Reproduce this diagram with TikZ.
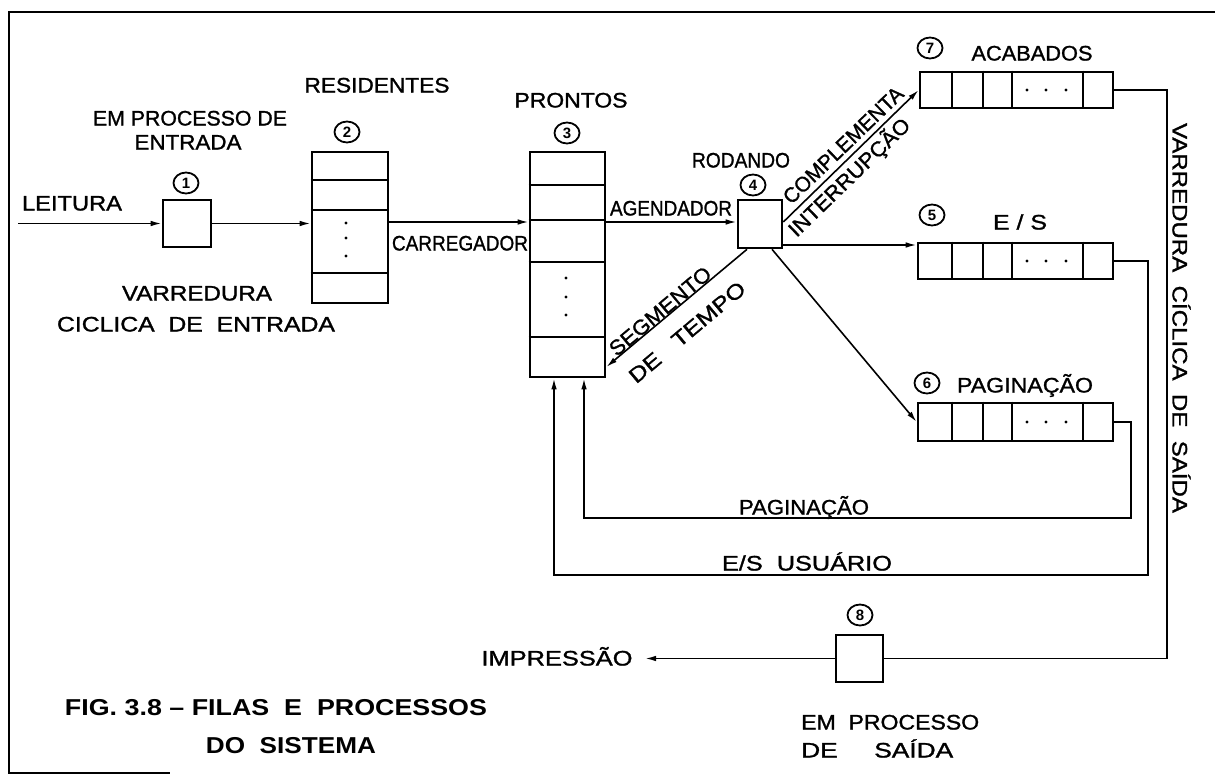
\documentclass[tikz,border=0pt]{standalone}
\usepackage{fontspec}
\setmainfont{Liberation Sans}
\newfontfamily\medfont[FakeBold=1.2]{Liberation Sans}
\usetikzlibrary{arrows.meta,shapes.geometric}
\newcommand\tw[2]{\resizebox{#1pt}{\height}{#2}}
\begin{document}
\begin{tikzpicture}[x=1pt,y=-1pt,
  conn/.style={line width=1.6pt,-{Latex[length=11pt,width=5.5pt]}},
  plain/.style={line width=1.6pt},
  box/.style={draw,line width=2.6pt,inner sep=0pt},
  div/.style={line width=2.2pt},
  lbl/.style={inner sep=0pt,text height=15pt,text depth=0pt,font=\medfont\fontsize{21}{21}\selectfont},
  captxt/.style={inner sep=0pt,text height=17pt,text depth=0pt,font=\bfseries\fontsize{23}{23}\selectfont},
  num/.style={ellipse,draw,line width=1.8pt,minimum width=25pt,minimum height=21pt,inner sep=0pt,font=\bfseries\fontsize{15}{15}\selectfont}]
\useasboundingbox (0,0) rectangle (1215,776);
\fill[white] (0,0) rectangle (1215,776);
% frame
\draw[line width=2.2pt] (1215,12) -- (9,12) -- (9,773) -- (170,773);

% boxes
\node[box,minimum width=48pt,minimum height=47pt] (b1) at (187,223.5) {};
\node[box,minimum width=76pt,minimum height=151pt] (b2) at (350,227.5) {};
\node[box,minimum width=75pt,minimum height=225pt] (b3) at (567.5,264.5) {};
\node[box,minimum width=44pt,minimum height=48pt] (b4) at (760,224) {};
\node[box,minimum width=193pt,minimum height=36pt] (b7) at (1016.5,90) {};
\node[box,minimum width=195pt,minimum height=36pt] (b5) at (1015.5,261) {};
\node[box,minimum width=195pt,minimum height=38pt] (b6) at (1015.5,422) {};
\node[box,minimum width=47pt,minimum height=47pt] (b8) at (859.5,658.5) {};

% dividers of the vertical queues
\foreach \y in {180,210,273} \draw[div] (b2.west |- 0,\y) -- (b2.east |- 0,\y);
\foreach \y in {185,220,262,337} \draw[div] (b3.west |- 0,\y) -- (b3.east |- 0,\y);
\foreach \y in {223,238,256} \fill (346,\y) circle (1.7pt);
\foreach \y in {278,297,315} \fill (566,\y) circle (1.7pt);
% dividers of the horizontal queues
\foreach \q in {b7,b5,b6}{
  \foreach \x in {952,983,1012,1083} \draw[div] (\x,0 |- \q.north) -- (\x,0 |- \q.south);
  \foreach \x in {1027,1046,1066} \fill (\x,0 |- \q.center) circle (1.7pt);
}

% numbers
\node[num] (n1) at (186,183) {1};
\node[num] (n2) at (347,132) {2};
\node[num] (n3) at (567,133) {3};
\node[num] (n4) at (753,185) {4};
\node[num] (n7) at (930,48) {7};
\node[num] (n5) at (932,215) {5};
\node[num] (n6) at (927,383) {6};
\node[num] (n8) at (860,615) {8};

% connectors
\coordinate (lstart) at (18,223.5);
\draw[conn] (lstart) -- (b1.west);
\draw[conn] (b1.east) -- (b2.west |- b1.east);
\draw[conn] (b2.east |- 0,222) -- (b3.west |- 0,222);
\draw[conn] (b3.east |- 0,222) -- (b4.west |- 0,222);
\draw[conn] (b4.east |- 0,222) -- (b7.west);
\draw[conn] (b4.east |- 0,245) -- (b5.west |- 0,245);
\draw[conn] (772,0 |- b4.south) -- (b6.west);
\draw[conn] (747,0 |- b4.south) -- (b3.east |- 0,367);
\draw[plain] (b7.east) -- (1167,0 |- b7.east) -- (1167,0 |- b8.east) -- (b8.east);
\coordinate (imp) at (645,658.5);
\draw[conn] (b8.west) -- (imp);
\draw[conn] (b5.east) -- (1148,0 |- b5.east) -- (1148,575) -- (554,575) -- (554,0 |- b3.south);
\draw[conn] (b6.east) -- (1131,0 |- b6.east) -- (1131,518) -- (584,518) -- (584,0 |- b3.south);

% labels
\node[lbl] (tleit) at (72,203) {\tw{100}{LEITURA}};
\node[lbl] (tepe1) at (190,118) {\tw{194}{EM PROCESSO DE}};
\node[lbl] (tepe2) at (188,142) {\tw{107}{ENTRADA}};
\node[lbl] (tres) at (377,85) {\tw{145}{RESIDENTES}};
\node[lbl] (tvar) at (197,293) {\tw{150}{VARREDURA}};
\node[lbl] (tcic) at (196,324) {\tw{278}{CICLICA\ \ DE\ \ ENTRADA}};
\node[lbl] (tcar) at (460,243) {\tw{136}{CARREGADOR}};
\node[lbl] (tpro) at (571,100) {\tw{113}{PRONTOS}};
\node[lbl] (tage) at (671,208) {\tw{122}{AGENDADOR}};
\node[lbl] (trod) at (741,160) {\tw{98}{RODANDO}};
\node[lbl] (taca) at (1032,53) {\tw{121}{ACABADOS}};
\node[lbl] (tes) at (1020,222) {\tw{54}{E / S}};
\node[lbl] (tpag) at (1025,385) {\tw{136}{PAGINAÇÃO}};
\node[lbl] (tpag2) at (804,507) {\tw{130}{PAGINAÇÃO}};
\node[lbl] (tesu) at (807,563) {\tw{170}{E/S\ \ USUÁRIO}};
\node[lbl,anchor=west] (teps1) at (801,722) {\tw{178}{EM\ \ PROCESSO}};
\node[lbl,anchor=west] (teps2) at (801,750) {\tw{152}{DE\ \ \ \ \ SAÍDA}};
\node[lbl] (timp) at (557,658) {\tw{151}{IMPRESSÃO}};
\node[lbl,rotate=44] (tcomp) at (843,145) {\tw{158}{COMPLEMENTA}};
\node[lbl,rotate=44] (tint) at (849,177) {\tw{160}{INTERRUPÇÃO}};
\node[lbl,rotate=40] (tseg) at (660,311) {\tw{126}{SEGMENTO}};
\node[lbl,rotate=40] (ttem) at (687,332) {\tw{145}{DE\ \ \ TEMPO}};
\node[lbl,rotate=-90] (tvcs) at (1180,318) {\tw{390}{VARREDURA\ \ CÍCLICA\ \ DE\ \ SAÍDA}};
\node[captxt] (cap1) at (276,707) {\tw{422}{FIG. 3.8 -- FILAS\ \ E\ \ PROCESSOS}};
\node[captxt] (cap2) at (291,745) {\tw{170}{DO\ \ SISTEMA}};
\end{tikzpicture}
\end{document}
